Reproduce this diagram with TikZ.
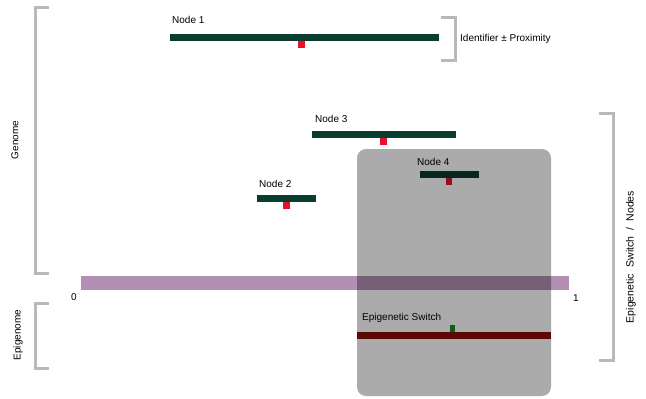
\documentclass[tikz,border=0pt]{standalone}
\usepackage{fontspec}
\setmainfont{Liberation Sans}
\definecolor{bargreen}{RGB}{11,61,46}
\definecolor{markred}{RGB}{232,17,45}
\definecolor{brackgray}{RGB}{185,185,185}
\definecolor{axispurple}{RGB}{180,143,180}
\definecolor{epired}{RGB}{138,15,12}
\definecolor{epigreen}{RGB}{20,140,30}
\tikzset{
  barfill/.style={fill=bargreen, draw=none},
  redmark/.style={fill=markred, draw=none},
  brack/.style={draw=brackgray, line width=3pt, line cap=butt, line join=miter},
  lbl/.style={font=\fontsize{10}{12}\selectfont, inner sep=0pt, anchor=base west},
  clbl/.style={font=\fontsize{10}{12}\selectfont, inner sep=0pt, rotate=90},
}
\begin{document}
\begin{tikzpicture}[x=1pt,y=-1pt]
\useasboundingbox (0,0) rectangle (646,399);
% brackets
\coordinate (g1) at (49,7); \coordinate (g2) at (35,7); \coordinate (g3) at (35,273); \coordinate (g4) at (49,273);
\draw[brack] (g1) -- (g2) -- (g3) -- (g4);
\coordinate (e1) at (49,303); \coordinate (e2) at (35,303); \coordinate (e3) at (35,368); \coordinate (e4) at (49,368);
\draw[brack] (e1) -- (e2) -- (e3) -- (e4);
\coordinate (i1) at (441,17); \coordinate (i2) at (455,17); \coordinate (i3) at (455,60); \coordinate (i4) at (441,60);
\draw[brack] (i1) -- (i2) -- (i3) -- (i4);
\coordinate (r1) at (599,113); \coordinate (r2) at (613,113); \coordinate (r3) at (613,360); \coordinate (r4) at (599,360);
\draw[brack] (r1) -- (r2) -- (r3) -- (r4);
% side labels
\node[clbl] (genome) at (15,140) {Genome};
\node[clbl] (epigenome) at (18,335) {Epigenome};
\node[clbl, font=\fontsize{10.5}{12}\selectfont] (esn) at (631,257) {Epigenetic\hspace{7pt}Switch\hspace{6pt}/\hspace{6pt}Nodes};
\node[lbl] (ident) at (460,41) {Identifier ± Proximity};
% axis
\path[fill=axispurple] (81,276) rectangle (569,290);
\node[lbl] (zero) at (71,300) {0};
\node[lbl] (one) at (573,301) {1};
% node 1
\path[barfill] (170,34) rectangle (439,41);
\path[redmark] (298,41) rectangle (305,48);
\node[lbl] (n1) at (172,23) {Node 1};
% node 3
\path[barfill] (312,131) rectangle (456,138);
\path[redmark] (380,138) rectangle (387,145);
\node[lbl] (n3) at (315,122) {Node 3};
% node 2
\path[barfill] (257,195) rectangle (316,202);
\path[redmark] (283,202) rectangle (290,209);
\node[lbl] (n2) at (259,187) {Node 2};
% node 4
\path[barfill] (420,171) rectangle (479,178);
\path[redmark] (446,178) rectangle (452,185);
% epigenetic switch
\path[fill=epired] (357,332) rectangle (551,339);
\path[fill=epigreen] (450,325) rectangle (455,332);
% overlay
\path[fill=black, fill opacity=0.33, rounded corners=9pt] (357,149) rectangle (551,396);
\node[lbl] (n4) at (417,165) {Node 4};
\node[lbl] (es) at (362,320) {Epigenetic Switch};
\end{tikzpicture}
\end{document}
